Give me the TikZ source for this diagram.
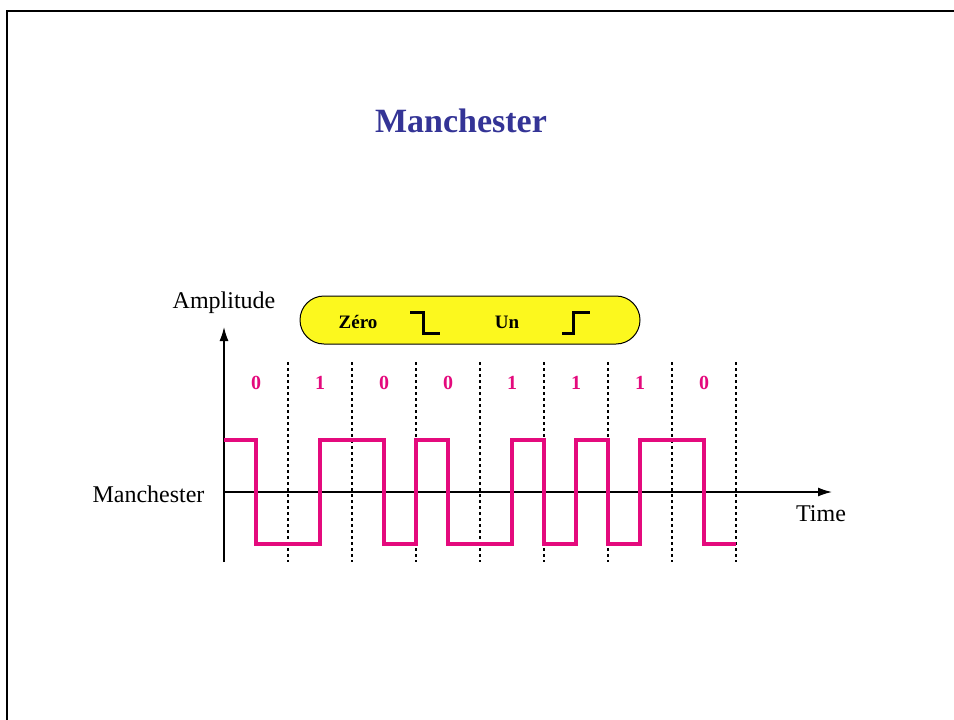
\documentclass[tikz,border=0pt]{standalone}
\usepackage{fontspec}
\setmainfont{Liberation Serif}
\usetikzlibrary{arrows.meta}
\definecolor{titleblue}{RGB}{52,52,150}
\definecolor{sigmag}{RGB}{228,10,125}
\definecolor{pillyellow}{RGB}{252,248,30}
\tikzset{
  axisline/.style={line width=1.4pt, -{Latex[length=14pt,width=9pt]}},
  gridline/.style={line width=1.3pt, dash pattern=on 3pt off 3pt},
  signal/.style={line width=4.5pt, sigmag, line join=miter},
  bitlabel/.style={text=sigmag, font=\fontsize{20}{23}\selectfont\bfseries},
  pilltext/.style={font=\fontsize{19}{22}\selectfont\bfseries},
  axlabel/.style={font=\fontsize{24}{28}\selectfont},
  stepsym/.style={line width=3pt, line join=miter}
}
\begin{document}
\begin{tikzpicture}[x=1pt,y=-1pt]
\useasboundingbox (0,0) rectangle (954,720);
\fill[white] (0,0) rectangle (954,720);
% frame
\draw[line width=2.5pt] (7,720) -- (7,11) -- (954,11);
% title
\node[text=titleblue, font=\fontsize{34}{40}\selectfont\bfseries] (title) at (461,121) {Manchester};
% pill
\node[draw=black, line width=1pt, fill=pillyellow, rounded corners=24pt, minimum width=340pt, minimum height=48pt] (pill) at (470,320) {};
\node[pilltext] (zero) at (358,322) {Zéro};
\node[pilltext] (un) at (507,322) {Un};
\draw[stepsym] (410,312) -- (423,312) -- (423,333) -- (440,333);
\draw[stepsym] (562,333) -- (573,333) -- (573,312) -- (590,312);
% axes
\coordinate (ybot) at (224,562);
\coordinate (ytop) at (224,327);
\coordinate (xo) at (224,492);
\coordinate (xend) at (832,492);
\draw[axisline] (ybot) -- (ytop);
\draw[axisline] (xo) -- (xend);
\node[axlabel] (amp) at (224,303) {Amplitude};
\node[axlabel, anchor=east] (manlab) at (208,494) {Manchester};
\node[axlabel] (time) at (821,514) {Time};
% grid lines
\foreach \k in {1,...,8} {
  \coordinate (gt\k) at ({224+64*\k},362);
  \coordinate (gb\k) at ({224+64*\k},562);
  \draw[gridline] (gt\k) -- (gb\k);
}
% bit labels
\foreach \b [count=\i from 0] in {0,1,0,0,1,1,1,0} {
  \node[bitlabel] (bit\i) at ({256+64*\i},383) {\b};
}
% signal
\draw[signal] (224,440) -- (256,440) -- (256,544) -- (320,544) -- (320,440)
  -- (384,440) -- (384,544) -- (416,544) -- (416,440) -- (448,440)
  -- (448,544) -- (512,544) -- (512,440) -- (544,440) -- (544,544)
  -- (576,544) -- (576,440) -- (608,440) -- (608,544) -- (640,544)
  -- (640,440) -- (704,440) -- (704,544) -- (736,544);
\end{tikzpicture}
\end{document}
